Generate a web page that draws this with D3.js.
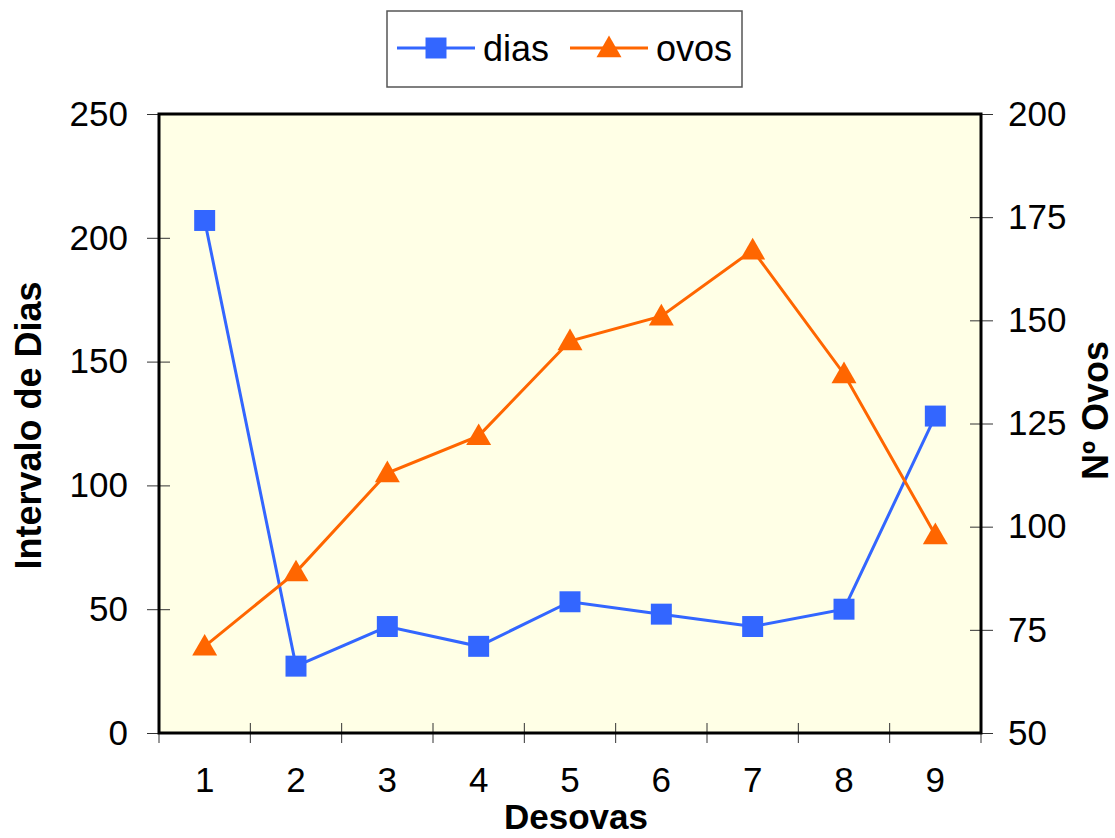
<!DOCTYPE html>
<html>
<head>
<meta charset="utf-8">
<script src="https://cdn.jsdelivr.net/npm/d3@7"></script>
<style>
  body { margin: 0; background: #fff; }
  text { font-family: "Liberation Sans", Arial, sans-serif; }
</style>
</head>
<body>
<svg id="chart" width="1115" height="838"></svg>
<script>
// data
const categories = ["1", "2", "3", "4", "5", "6", "7", "8", "9"];
const dias = [207, 27, 43, 35, 53, 48, 43, 50, 128];
const ovos = [71, 89, 113, 122, 145, 151, 167, 137, 98];
const leftTicks = [0, 50, 100, 150, 200, 250];
const rightTicks = [50, 75, 100, 125, 150, 175, 200];

const svg = d3.select("#chart");
const plot = { left: 159, right: 981, top: 114, bottom: 733 };

const x = d3.scaleBand().domain(categories).range([plot.left, plot.right]);
const yL = d3.scaleLinear().domain([0, 250]).range([plot.bottom, plot.top]);
const yR = d3.scaleLinear().domain([50, 200]).range([plot.bottom, plot.top]);
const cx = d => x(d) + x.bandwidth() / 2;

// plot background
svg.append("rect")
    .attr("x", plot.left).attr("y", plot.top)
    .attr("width", plot.right - plot.left)
    .attr("height", plot.bottom - plot.top)
    .attr("fill", "#FFFFE6");

// left axis
const gL = svg.append("g")
    .attr("transform", `translate(${plot.left},0)`)
    .call(d3.axisLeft(yL).tickValues(leftTicks).tickSize(12).tickPadding(19));
gL.select(".domain").remove();
gL.selectAll(".tick line").attr("x1", 11).attr("x2", -12).attr("stroke", "#333");
gL.selectAll(".tick text").attr("font-size", 35).attr("fill", "#000");

// right axis
const gR = svg.append("g")
    .attr("transform", `translate(${plot.right},0)`)
    .call(d3.axisRight(yR).tickValues(rightTicks).tickSize(12).tickPadding(15));
gR.select(".domain").remove();
gR.selectAll(".tick line").attr("x1", -11).attr("x2", 12).attr("stroke", "#333");
gR.selectAll(".tick text").attr("font-size", 35).attr("fill", "#000");

// bottom axis: labels in band centres, ticks on band edges
const gB = svg.append("g")
    .attr("transform", `translate(0,${plot.bottom})`)
    .call(d3.axisBottom(x).tickSize(0).tickPadding(34));
gB.select(".domain").remove();
gB.selectAll(".tick text").attr("font-size", 35).attr("fill", "#000");

const edges = categories.map(c => x(c)).concat([plot.right]);
svg.append("g").selectAll("line")
    .data(edges)
    .join("line")
    .attr("x1", d => d).attr("x2", d => d)
    .attr("y1", plot.bottom - 10).attr("y2", plot.bottom + 10)
    .attr("stroke", "#333");

// frame
svg.append("rect")
    .attr("x", plot.left).attr("y", plot.top)
    .attr("width", plot.right - plot.left)
    .attr("height", plot.bottom - plot.top)
    .attr("fill", "none")
    .attr("stroke", "#000")
    .attr("stroke-width", 3);

// lines
const blue = "#3366FF", orange = "#FF6600";

svg.append("path")
    .datum(dias)
    .attr("fill", "none")
    .attr("stroke", blue)
    .attr("stroke-width", 3)
    .attr("d", d3.line().x((d, i) => cx(categories[i])).y(d => yL(d)));

svg.append("path")
    .datum(ovos)
    .attr("fill", "none")
    .attr("stroke", orange)
    .attr("stroke-width", 3)
    .attr("d", d3.line().x((d, i) => cx(categories[i])).y(d => yR(d)));

// markers
const square = d3.symbol().type(d3.symbolSquare).size(440);
const triangle = d3.symbol().type(d3.symbolTriangle).size(270);

svg.append("g").selectAll("path")
    .data(dias)
    .join("path")
    .attr("d", square)
    .attr("transform", (d, i) => `translate(${cx(categories[i])},${yL(d)})`)
    .attr("fill", blue);

svg.append("g").selectAll("path")
    .data(ovos)
    .join("path")
    .attr("d", triangle)
    .attr("transform", (d, i) => `translate(${cx(categories[i])},${yR(d) + 2})`)
    .attr("fill", orange);

// axis titles
svg.append("text")
    .attr("x", (plot.left + plot.right) / 2 + 6)
    .attr("y", 829)
    .attr("text-anchor", "middle")
    .attr("font-size", 35)
    .attr("font-weight", "bold")
    .text("Desovas");

svg.append("text")
    .attr("transform", `translate(41,${(plot.top + plot.bottom) / 2 + 2}) rotate(-90)`)
    .attr("text-anchor", "middle")
    .attr("font-size", 36)
    .attr("font-weight", "bold")
    .text("Intervalo de Dias");

svg.append("text")
    .attr("transform", `translate(1108,${(plot.top + plot.bottom) / 2 - 13}) rotate(-90)`)
    .attr("text-anchor", "middle")
    .attr("font-size", 36)
    .attr("font-weight", "bold")
    .text("Nº Ovos");

// legend
const legend = svg.append("g");
legend.append("rect")
    .attr("x", 387).attr("y", 11)
    .attr("width", 355).attr("height", 76)
    .attr("fill", "#fff")
    .attr("stroke", "#555")
    .attr("stroke-width", 1.5);

const items = [
  { name: "dias", color: blue, sym: square, x0: 397 },
  { name: "ovos", color: orange, sym: triangle, x0: 570 }
];
items.forEach(it => {
  legend.append("line")
      .attr("x1", it.x0).attr("x2", it.x0 + 78)
      .attr("y1", 48).attr("y2", 48)
      .attr("stroke", it.color).attr("stroke-width", 3);
  legend.append("path")
      .attr("d", it.sym)
      .attr("transform", `translate(${it.x0 + 39},${it.name === "ovos" ? 50 : 48})`)
      .attr("fill", it.color);
  legend.append("text")
      .attr("x", it.x0 + 86).attr("y", 61)
      .attr("font-size", 36)
      .text(it.name);
});
</script>
</body>
</html>
